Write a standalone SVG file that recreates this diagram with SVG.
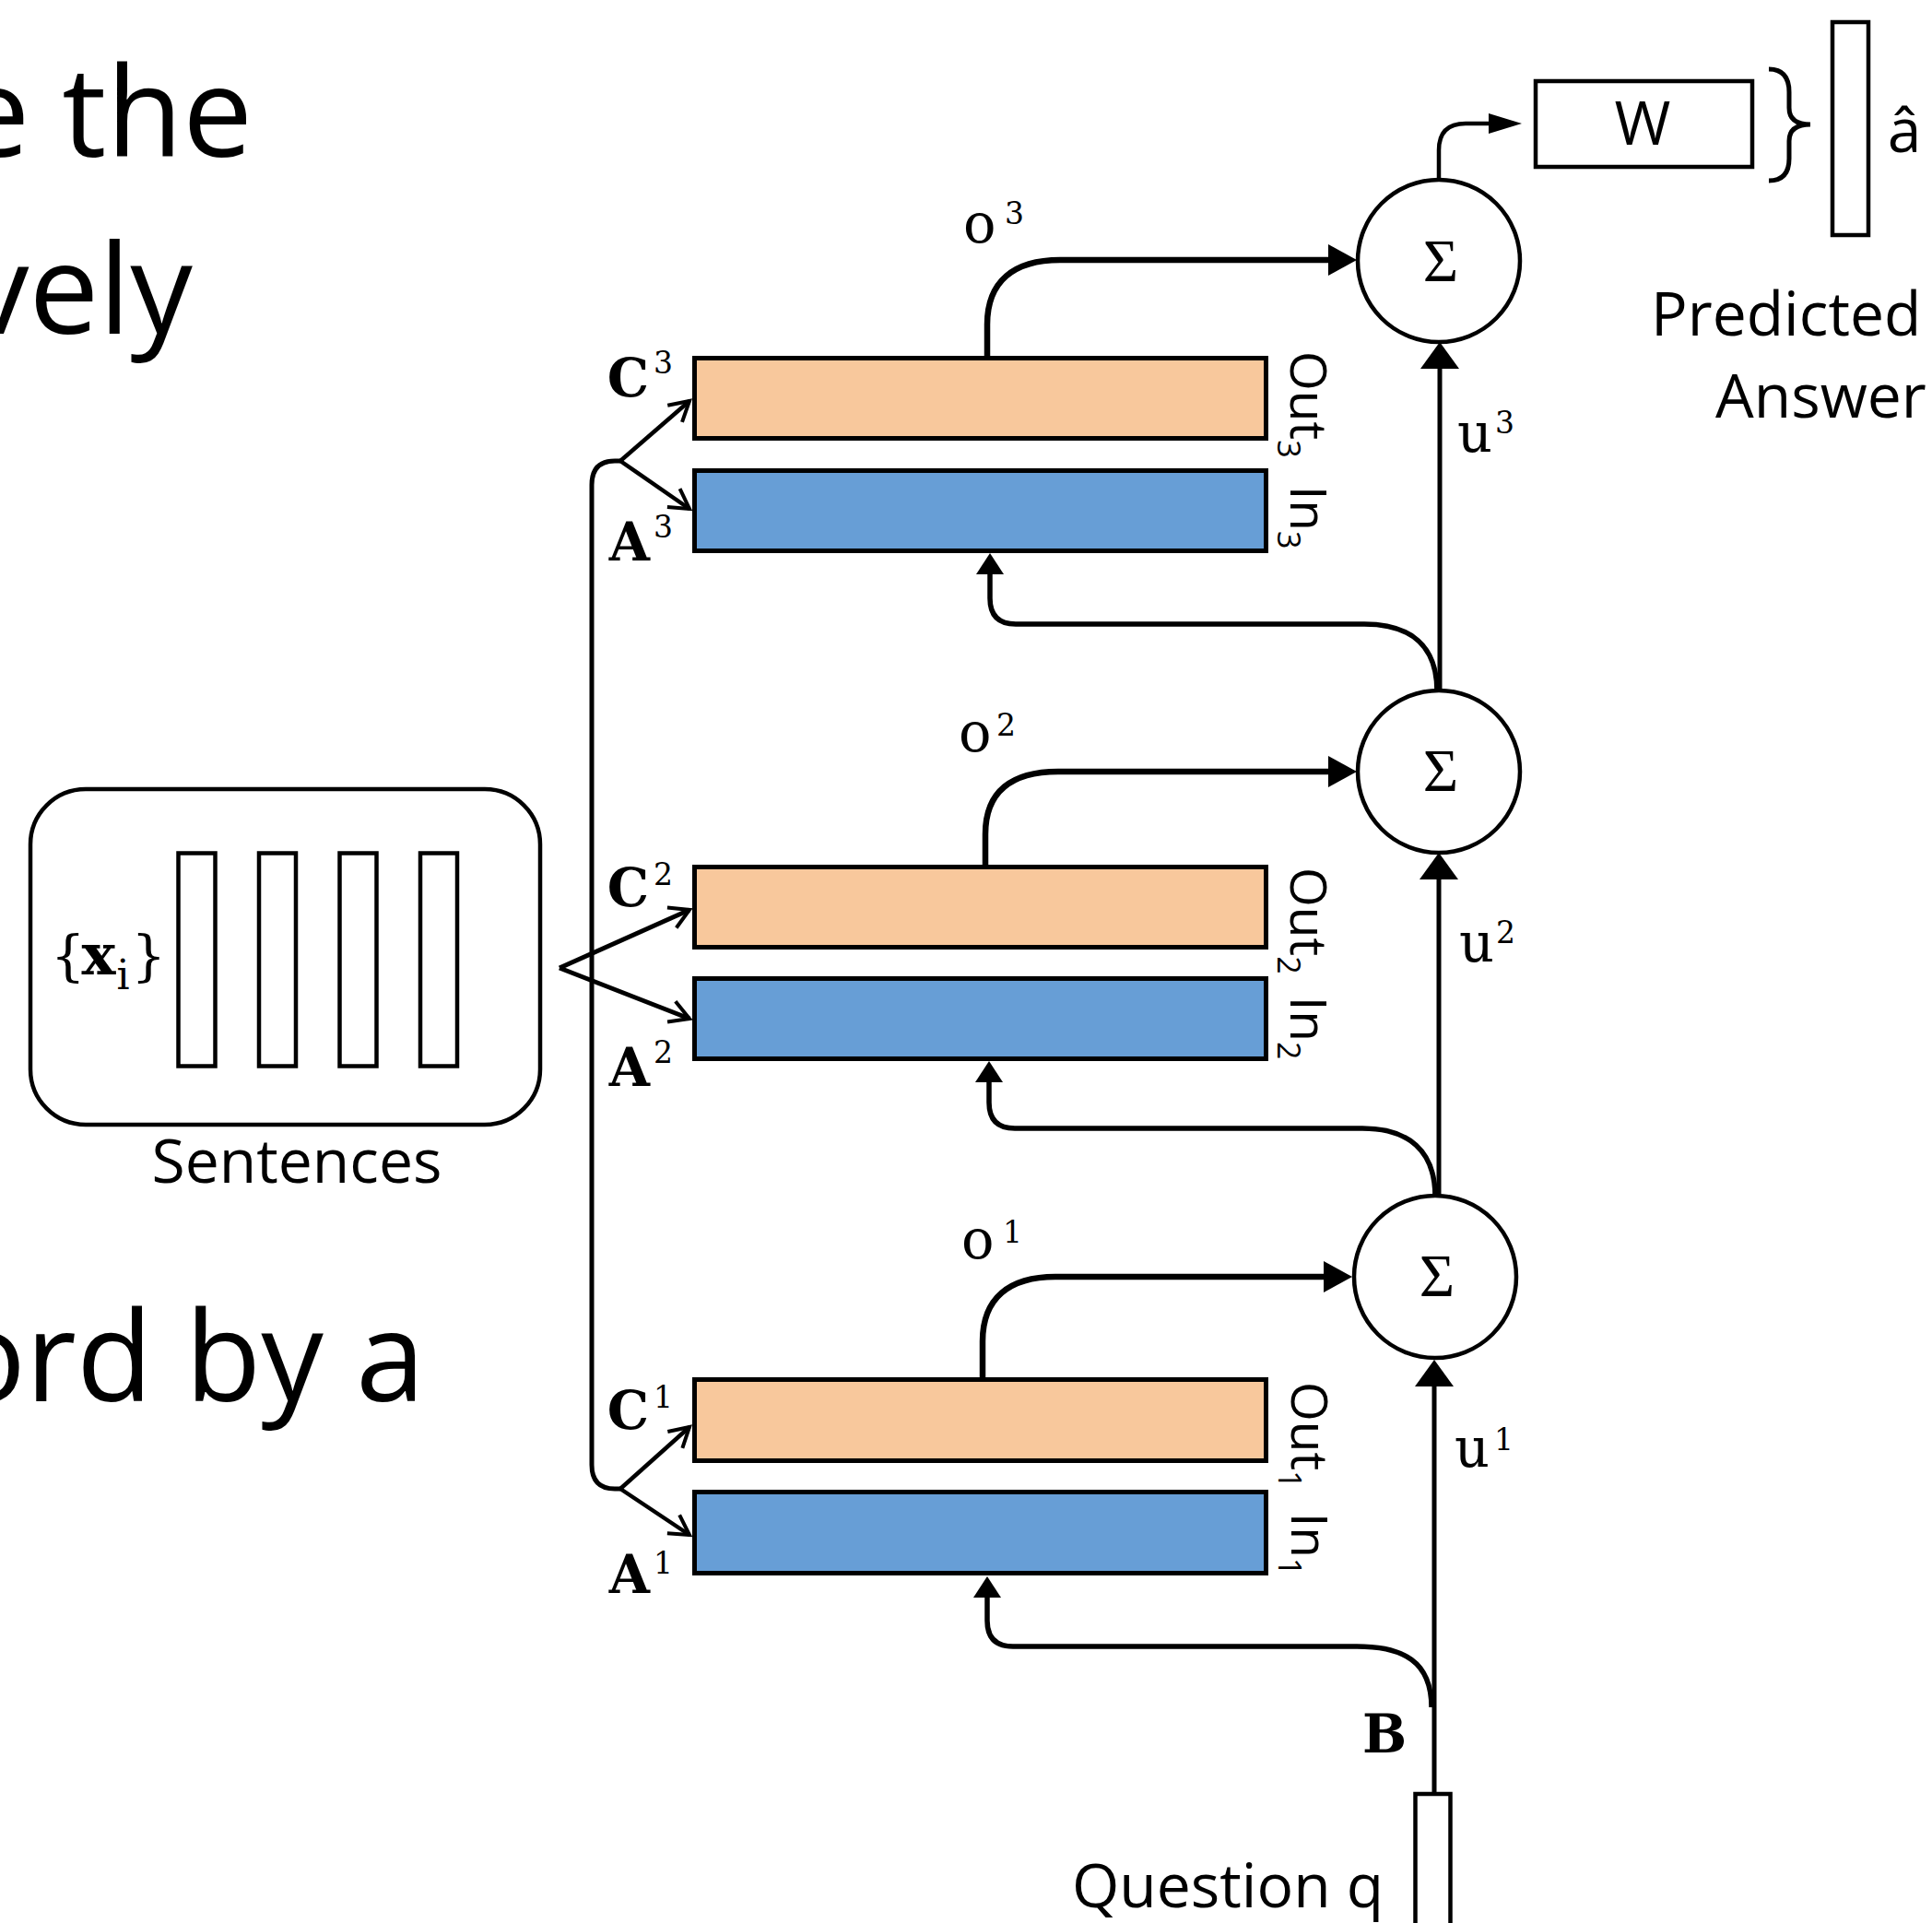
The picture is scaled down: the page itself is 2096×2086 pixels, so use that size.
<svg xmlns="http://www.w3.org/2000/svg" width="2096" height="2086" viewBox="0 0 2096 2086">
<style>
.big{font-family:"Open Sans","Liberation Sans",sans-serif;font-size:135px;fill:#000}
.lbl{font-family:"Open Sans","Liberation Sans",sans-serif;font-size:66px;fill:#000}
.rot{font-family:"Open Sans","Liberation Sans",sans-serif;font-size:55px;fill:#000}
.sub{font-size:34px}
.m{font-family:"DejaVu Serif",serif;font-weight:bold;font-size:57px;fill:#000}
.mr{font-family:"DejaVu Serif",serif;font-size:59px;fill:#000}
.sup{font-family:"DejaVu Serif",serif;font-size:33px;fill:#000}
.sig{font-family:"Liberation Serif",serif;font-size:66px;fill:#000;text-anchor:middle}
.box{fill:#fff;stroke:#000;stroke-width:4.5}
.out{fill:#F8C89C;stroke:#000;stroke-width:5}
.in{fill:#679ED6;stroke:#000;stroke-width:5}
.circ{fill:#fff;stroke:#000;stroke-width:4.5}
</style>
<defs>
<marker id="aU" markerUnits="userSpaceOnUse" orient="auto" refX="0" refY="0" markerWidth="40" markerHeight="50" overflow="visible"><path d="M-1,-21 L28,0 L-1,21 Z" fill="#000"/></marker>
<marker id="aO" markerUnits="userSpaceOnUse" orient="auto" refX="0" refY="0" markerWidth="40" markerHeight="40" overflow="visible"><path d="M-1,-17 L30,0 L-1,17 Z" fill="#000"/></marker>
<marker id="aF" markerUnits="userSpaceOnUse" orient="auto" refX="0" refY="0" markerWidth="30" markerHeight="30" overflow="visible"><path d="M-1,-15 L22,0 L-1,15 Z" fill="#000"/></marker>
<marker id="aW" markerUnits="userSpaceOnUse" orient="auto" refX="0" refY="0" markerWidth="40" markerHeight="30" overflow="visible"><path d="M-1,-11 L35,0 L-1,11 Z" fill="#000"/></marker>
<marker id="aV" markerUnits="userSpaceOnUse" orient="auto" refX="0" refY="0" markerWidth="30" markerHeight="30" overflow="visible"><path d="M-21,-12 L0,0 L-21,12" fill="none" stroke="#000" stroke-width="4"/></marker>
</defs>
<rect width="2096" height="2086" fill="#fff"/>

<g id="slide-text">
<text class="big" x="274" y="170" text-anchor="end">e the</text>
<text class="big" x="209" y="362" text-anchor="end">vely</text>
<text class="big" x="461" y="1520" text-anchor="end">ord by a</text>
</g>

<g id="connectors" fill="none" stroke="#000">
<path d="M673,500 L667,500 Q642,500 642,526 L642,1589 Q642,1615 667,1615 L673,1615" stroke-width="5"/>
<path d="M673,500 L748,435" stroke-width="4.5" marker-end="url(#aV)"/>
<path d="M673,500 L748,552" stroke-width="4.5" marker-end="url(#aV)"/>
<path d="M607,1050 L748,987" stroke-width="5" marker-end="url(#aV)"/>
<path d="M607,1050 L748,1105" stroke-width="5" marker-end="url(#aV)"/>
<path d="M673,1615 L748,1548" stroke-width="4.5" marker-end="url(#aV)"/>
<path d="M673,1615 L748,1665" stroke-width="4.5" marker-end="url(#aV)"/>
<path d="M1071,386 L1071,352 C1071,305 1100,282 1150,282 L1442,282" stroke-width="6.5" marker-end="url(#aO)"/>
<path d="M1069,938 L1069,905 C1069,858 1098,837 1148,837 L1442,837" stroke-width="6.5" marker-end="url(#aO)"/>
<path d="M1066,1494 L1066,1455 C1066,1408 1095,1385 1145,1385 L1437,1385" stroke-width="6.5" marker-end="url(#aO)"/>
<path d="M1562,750 L1562,399" stroke-width="5" marker-end="url(#aU)"/>
<path d="M1561,1298 L1561,953" stroke-width="5" marker-end="url(#aU)"/>
<path d="M1556,1946 L1556,1503" stroke-width="5" marker-end="url(#aU)"/>
<path d="M1559,750 C1559,700 1530,677 1480,677 L1102,677 Q1074,677 1074,649 L1074,622" stroke-width="5.5" marker-end="url(#aF)"/>
<path d="M1557,1298 C1557,1248 1528,1224 1478,1224 L1101,1224 Q1073,1224 1073,1196 L1073,1173" stroke-width="5.5" marker-end="url(#aF)"/>
<path d="M1553,1852 C1553,1802 1522,1786 1472,1786 L1099,1786 Q1071,1786 1071,1758 L1071,1732" stroke-width="5.5" marker-end="url(#aF)"/>
<path d="M1561,196 L1561,163 Q1561,134 1590,134 L1616,134" stroke-width="4.5" marker-end="url(#aW)"/>
<path d="M1919,75 Q1941,75 1941,100 L1941,117 Q1941,135 1964,135 Q1941,135 1941,153 L1941,172 Q1941,196 1919,196" stroke-width="5"/>
</g>

<g id="node-sentences">
<rect class="box" x="33" y="856" width="553" height="364" rx="60" ry="60"/>
<rect class="box" x="193.5" y="925.5" width="40" height="231" stroke-width="5"/>
<rect class="box" x="281" y="925.5" width="40" height="231" stroke-width="5"/>
<rect class="box" x="368.5" y="925.5" width="40" height="231" stroke-width="5"/>
<rect class="box" x="456" y="925.5" width="40" height="231" stroke-width="5"/>
<text class="mr" x="55" y="1057" font-size="62">{<tspan font-weight="bold" font-size="62" dx="-4">x</tspan><tspan font-size="44" dy="16" dx="1">i</tspan><tspan dy="-16" dx="2">}</tspan></text>
<text class="lbl" x="322" y="1283" text-anchor="middle">Sentences</text>
</g>

<g id="node-C3">
<rect class="out" x="753.5" y="388.5" width="620" height="87"/>
<text class="m" x="704" y="430" text-anchor="end">C</text><text class="sup" x="709" y="405">3</text>
<text class="rot" transform="translate(1400,381) rotate(90)">Out<tspan class="sub" dy="14">3</tspan></text>
</g>
<g id="node-A3">
<rect class="in" x="753.5" y="510.5" width="620" height="87"/>
<text class="m" x="705" y="608" text-anchor="end">A</text><text class="sup" x="709" y="583">3</text>
<text class="rot" transform="translate(1400,527) rotate(90)">In<tspan class="sub" dy="14">3</tspan></text>
</g>
<g id="node-C2">
<rect class="out" x="753.5" y="940.5" width="620" height="87"/>
<text class="m" x="704" y="983" text-anchor="end">C</text><text class="sup" x="709" y="960">2</text>
<text class="rot" transform="translate(1400,941) rotate(90)">Out<tspan class="sub" dy="14">2</tspan></text>
</g>
<g id="node-A2">
<rect class="in" x="753.5" y="1061.5" width="620" height="87"/>
<text class="m" x="705" y="1178" text-anchor="end">A</text><text class="sup" x="709" y="1153">2</text>
<text class="rot" transform="translate(1400,1081) rotate(90)">In<tspan class="sub" dy="14">2</tspan></text>
</g>
<g id="node-C1">
<rect class="out" x="753.5" y="1496.5" width="620" height="88"/>
<text class="m" x="704" y="1550" text-anchor="end">C</text><text class="sup" x="709" y="1527">1</text>
<text class="rot" transform="translate(1401,1499) rotate(90)">Out<tspan class="sub" dy="14">1</tspan></text>
</g>
<g id="node-A1">
<rect class="in" x="753.5" y="1618.5" width="620" height="88"/>
<text class="m" x="705" y="1728" text-anchor="end">A</text><text class="sup" x="709" y="1707">1</text>
<text class="rot" transform="translate(1401,1641) rotate(90)">In<tspan class="sub" dy="14">1</tspan></text>
</g>

<g id="node-sum3">
<circle class="circ" cx="1561" cy="283" r="88"/>
<text class="sig" x="1563" y="305">Σ</text>
</g>
<g id="node-sum2">
<circle class="circ" cx="1561" cy="837" r="88"/>
<text class="sig" x="1563" y="858">Σ</text>
</g>
<g id="node-sum1">
<circle class="circ" cx="1557" cy="1385" r="88"/>
<text class="sig" x="1559" y="1406">Σ</text>
</g>

<g id="labels">
<text class="mr" x="1045" y="263">o</text><text class="sup" x="1090" y="243">3</text>
<text class="mr" x="1040" y="815">o</text><text class="sup" x="1081" y="798">2</text>
<text class="mr" x="1043" y="1365">o</text><text class="sup" x="1088" y="1348">1</text>
<text class="mr" x="1581" y="490">u</text><text class="sup" x="1622" y="470">3</text>
<text class="mr" x="1583" y="1043">u</text><text class="sup" x="1623" y="1023">2</text>
<text class="mr" x="1578" y="1591">u</text><text class="sup" x="1621" y="1573">1</text>
<text class="m" x="1478" y="1901" font-size="55">B</text>
</g>

<g id="node-question">
<rect class="box" x="1535.5" y="1946" width="38" height="200"/>
<text class="lbl" x="1163" y="2069">Question q</text>
</g>

<g id="node-W">
<rect class="box" x="1666" y="88" width="235" height="93"/>
<text class="lbl" x="1782" y="157" text-anchor="middle">W</text>
</g>

<g id="node-answer">
<rect class="box" x="1988" y="24" width="39" height="231"/>
<text class="lbl" x="2066" y="165" text-anchor="middle" font-size="68">â</text>
<text class="lbl" x="1791" y="364">Predicted</text>
<text class="lbl" x="1861" y="453">Answer</text>
</g>
</svg>
